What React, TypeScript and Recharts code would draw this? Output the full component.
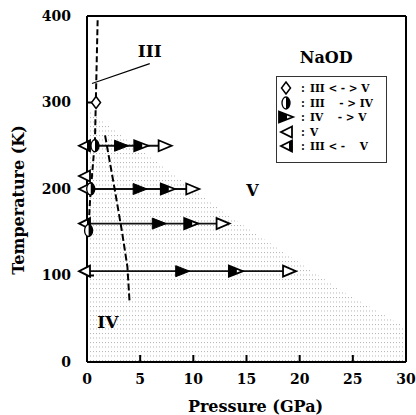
import React from 'react';
import {
  ComposedChart, XAxis, YAxis, Line, Scatter, Area, ReferenceLine, ReferenceDot, Legend, Label,
} from 'recharts';

// axes
const pressureTicks = [0, 5, 10, 15, 20, 25, 30];
const temperatureTicks = [0, 100, 200, 300, 400];

// stippled region V (upper edge)
const phaseVEdge = [
  { p: 0, t: 292 },
  { p: 13, t: 172 },
  { p: 24, t: 82 },
  { p: 30, t: 40 },
];

// dashed phase boundaries
const boundaryIII = [
  { p: 1.0, t: 395 },
  { p: 0.75, t: 257 },
  { p: 0.3, t: 190 },
  { p: 0.1, t: 145 },
];
const boundaryIV = [
  { p: 1.7, t: 262 },
  { p: 2.6, t: 200 },
  { p: 3.3, t: 150 },
  { p: 3.8, t: 110 },
  { p: 4.0, t: 70 },
];

// compression runs (isotherms)
const run250 = [{ p: 0, t: 250 }, { p: 7.3, t: 250 }];
const run200 = [{ p: 0, t: 200 }, { p: 9.9, t: 200 }];
const run160 = [{ p: 0, t: 160 }, { p: 12.75, t: 160 }];
const run105 = [{ p: 0, t: 105 }, { p: 19.0, t: 105 }];

// markers
const diamondPts = [{ p: 0.85, t: 300 }];
const halfDiscPts = [{ p: 0.75, t: 250 }, { p: 0.35, t: 200 }, { p: 0.15, t: 152 }];
const filledRightPts = [{ p: 3.25, t: 250 }, { p: 5.0, t: 200 }, { p: 6.8, t: 160 }, { p: 9.0, t: 105 }];
const halfRightPts = [{ p: 5.1, t: 250 }, { p: 7.6, t: 200 }, { p: 9.8, t: 160 }, { p: 14.0, t: 105 }];
const openRightPts = [{ p: 7.3, t: 250 }, { p: 9.9, t: 200 }, { p: 12.75, t: 160 }, { p: 19.0, t: 105 }];
const openLeftPts = [{ p: 0, t: 215 }, { p: 0, t: 200 }, { p: 0, t: 105 }];
const barLeftPts = [{ p: 0, t: 250 }, { p: 0, t: 160 }];

const legendRows = [
  { key: 'diamond', text: 'III < - > V' },
  { key: 'halfDisc', text: 'III    - > IV' },
  { key: 'halfRight', text: 'IV    - > V' },
  { key: 'openLeft', text: 'V' },
  { key: 'barLeft', text: 'III < -    V' },
];

const FONT = '"DejaVu Serif", serif';

const diamond = (cx: number, cy: number) => (
  <path d={`M${cx},${cy - 6}L${cx + 4.5},${cy}L${cx},${cy + 6}L${cx - 4.5},${cy}Z`}
    fill="#fff" stroke="#000" strokeWidth={1.5} />
);
const halfDisc = (cx: number, cy: number) => (
  <g>
    <ellipse cx={cx} cy={cy} rx={4} ry={6} fill="#fff" stroke="#000" strokeWidth={1.3} />
    <path d={`M${cx},${cy - 6}A4,6 0 0,1 ${cx},${cy + 6}Z`} fill="#000" />
  </g>
);
const filledRight = (cx: number, cy: number) => (
  <path d={`M${cx - 7},${cy - 5.5}L${cx + 7},${cy}L${cx - 7},${cy + 5.5}Z`} fill="#000" stroke="#000" strokeWidth={1} />
);
const halfRight = (cx: number, cy: number) => (
  <g>
    <path d={`M${cx - 7},${cy - 5.5}L${cx + 7},${cy}L${cx - 7},${cy + 5.5}Z`} fill="#fff" stroke="#000" strokeWidth={1.8} />
    <path d={`M${cx - 7},${cy - 5.5}L${cx + 1},${cy - 2.4}L${cx + 1},${cy + 2.4}L${cx - 7},${cy + 5.5}Z`} fill="#000" />
  </g>
);
const openRight = (cx: number, cy: number) => (
  <path d={`M${cx - 6},${cy - 5.5}L${cx + 7},${cy}L${cx - 6},${cy + 5.5}Z`} fill="#fff" stroke="#000" strokeWidth={1.8} />
);
const openLeft = (cx: number, cy: number) => (
  <path d={`M${cx + 3},${cy - 5.5}L${cx - 8},${cy}L${cx + 3},${cy + 5.5}Z`} fill="#fff" stroke="#000" strokeWidth={1.8} />
);
const barLeft = (cx: number, cy: number) => (
  <g>
    <path d={`M${cx + 3},${cy - 5.5}L${cx - 8},${cy}L${cx + 3},${cy + 5.5}Z`} fill="#fff" stroke="#000" strokeWidth={1.8} />
    <rect x={cx} y={cy - 5} width={3.5} height={10} fill="#000" />
  </g>
);

const iconFor: Record<string, (cx: number, cy: number) => React.ReactElement> = {
  diamond, halfDisc, halfRight, openLeft, barLeft,
};

const shape = (fn: (cx: number, cy: number) => React.ReactElement) => (props: any) => fn(props.cx, props.cy);

const renderLegend = () => (
  <div style={{
    width: 111, height: 87, boxSizing: 'border-box', border: '1.5px solid #333', background: '#fff',
    padding: '4px 0 0 0', fontFamily: FONT, fontWeight: 'bold', fontSize: 10.5, color: '#000',
  }}>
    {legendRows.map((r) => (
      <div key={r.key} style={{ display: 'flex', alignItems: 'center', height: 14.5, whiteSpace: 'pre' }}>
        <svg width={19} height={14} style={{ flex: 'none' }}>
          {iconFor[r.key](r.key === 'openLeft' || r.key === 'barLeft' ? 12 : 9, 7)}
        </svg>
        <span style={{ width: 14, textAlign: 'center' }}>:</span>
        <span>{r.text}</span>
      </div>
    ))}
  </div>
);

const textStyle = { fontFamily: FONT, fontWeight: 'bold', fill: '#000' };
const tickStyle = { ...textStyle, fontSize: 14 };
const blank = () => '';

const YTitle = (props: any) => {
  const vb = props.viewBox;
  const x = vb.x + 18;
  const y = vb.y + vb.height / 2 + 11;
  return (
    <text x={x} y={y} transform={`rotate(-90, ${x}, ${y})`} textAnchor="middle" dominantBaseline="central"
      style={{ ...textStyle, fontSize: 16 }} fill="#000">
      Temperature (K)
    </text>
  );
};

const axisLineStyle = { stroke: '#000', strokeWidth: 2 };
const tickLineStyle = { stroke: '#000', strokeWidth: 2 };

export default function App() {
  return (
    <div style={{ position: 'absolute', left: 0, top: 0, background: '#fff' }}>
      <ComposedChart width={416} height={415} margin={{ top: 0, right: 0, bottom: 0, left: 0 }}>
        <defs>
          <pattern id="stipple" patternUnits="userSpaceOnUse" width={3} height={4.5}>
            <rect x={0} y={0} width={1} height={1} fill="#b4b4b4" />
          </pattern>
        </defs>

        <Area data={phaseVEdge} dataKey="t" type="linear" baseValue={0} stroke="none"
          fill="url(#stipple)" fillOpacity={1} isAnimationActive={false} />

        <XAxis dataKey="p" type="number" domain={[0, 30]} ticks={pressureTicks} interval={0}
          height={53} tickSize={-7} tickMargin={19} tickLine={tickLineStyle}
          axisLine={axisLineStyle} tick={tickStyle}>
          <Label value="Pressure (GPa)" position="insideBottom" offset={3} dx={9}
            style={{ ...textStyle, fontSize: 16 }} />
        </XAxis>
        <XAxis xAxisId="top" orientation="top" type="number" domain={[0, 30]} ticks={pressureTicks}
          interval={0} height={16} tickSize={-7} tickLine={tickLineStyle} tickFormatter={blank}
          axisLine={axisLineStyle} />
        <YAxis dataKey="t" type="number" domain={[0, 400]} ticks={temperatureTicks} interval={0}
          width={87} tickSize={-7} tickMargin={23} tickLine={tickLineStyle}
          axisLine={axisLineStyle} tick={tickStyle}>
          <Label content={YTitle} />
        </YAxis>
        <YAxis yAxisId="right" orientation="right" type="number" domain={[0, 400]} ticks={temperatureTicks}
          interval={0} width={10} tickSize={-7} tickLine={tickLineStyle} tickFormatter={blank}
          axisLine={axisLineStyle} />

        <Line data={run250} dataKey="t" stroke="#111" strokeWidth={1.8} dot={false} isAnimationActive={false} />
        <Line data={run200} dataKey="t" stroke="#111" strokeWidth={1.8} dot={false} isAnimationActive={false} />
        <Line data={run160} dataKey="t" stroke="#111" strokeWidth={1.8} dot={false} isAnimationActive={false} />
        <Line data={run105} dataKey="t" stroke="#111" strokeWidth={1.8} dot={false} isAnimationActive={false} />

        <Line data={boundaryIII} dataKey="t" stroke="#000" strokeWidth={2} strokeDasharray="6 3"
          dot={false} isAnimationActive={false} />
        <Line data={boundaryIV} dataKey="t" stroke="#000" strokeWidth={2} strokeDasharray="7 3"
          dot={false} isAnimationActive={false} />

        <ReferenceLine segment={[{ x: 0.47, y: 322 }, { x: 5.9, y: 345 }]} stroke="#000" strokeWidth={1.2} />

        <Scatter data={openLeftPts} dataKey="t" shape={shape(openLeft)} isAnimationActive={false} />
        <Scatter data={barLeftPts} dataKey="t" shape={shape(barLeft)} isAnimationActive={false} />
        <Scatter data={halfDiscPts} dataKey="t" shape={shape(halfDisc)} isAnimationActive={false} />
        <Scatter data={diamondPts} dataKey="t" shape={shape(diamond)} isAnimationActive={false} />
        <Scatter data={filledRightPts} dataKey="t" shape={shape(filledRight)} isAnimationActive={false} />
        <Scatter data={halfRightPts} dataKey="t" shape={shape(halfRight)} isAnimationActive={false} />
        <Scatter data={openRightPts} dataKey="t" shape={shape(openRight)} isAnimationActive={false} />

        <ReferenceDot x={5.9} y={360} r={0} fill="none" stroke="none"
          label={{ value: 'III', position: 'center', style: { ...textStyle, fontSize: 17 } }} />
        <ReferenceDot x={22.5} y={352} r={0} fill="none" stroke="none"
          label={{ value: 'NaOD', position: 'center', style: { ...textStyle, fontSize: 16 } }} />
        <ReferenceDot x={15.55} y={199} r={0} fill="none" stroke="none"
          label={{ value: 'V', position: 'center', style: { ...textStyle, fontSize: 16 } }} />
        <ReferenceDot x={1.97} y={46} r={0} fill="none" stroke="none"
          label={{ value: 'IV', position: 'center', style: { ...textStyle, fontSize: 17 } }} />

        <Legend layout="vertical" align="center" verticalAlign="middle" content={renderLegend}
          wrapperStyle={{ position: 'absolute', left: 276, top: 76, width: 111, height: 87 }} />
      </ComposedChart>
    </div>
  );
}
